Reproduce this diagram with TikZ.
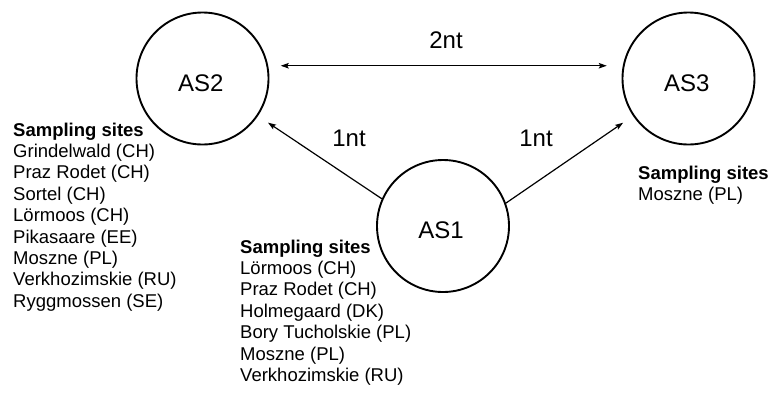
\documentclass[tikz,border=0pt]{standalone}
\usepackage{fontspec}
\setmainfont{Liberation Sans}
\usetikzlibrary{arrows.meta}
\begin{document}
\begin{tikzpicture}[x=1pt,y=-1pt,
  circ/.style={circle,draw,line width=1.9pt,minimum size=132pt,inner sep=0pt},
  big/.style={font=\fontsize{24}{28}\selectfont},
  lab/.style={big,inner sep=0pt},
  tip/.tip={Stealth[length=8pt,width=5.5pt,inset=1.5pt]},
  arr/.style={line width=1.2pt,-tip},
  sites/.style={anchor=base west,inner sep=0pt,font=\fontsize{18.5}{21.4}\selectfont}]
  \useasboundingbox (0,0) rectangle (777,392);

  % states
  \node[circ,label={[lab,xshift=-1.7pt,yshift=-4.5pt]center:AS2}] (AS2) at (202.5,78.5) {};
  \node[circ,label={[lab,xshift=-1.7pt,yshift=-4.5pt]center:AS3}] (AS3) at (688.5,78.5) {};
  \node[circ,label={[lab,xshift=-2pt,yshift=-4.5pt]center:AS1}] (AS1) at (443,226) {};

  % transitions
  \draw[arr,tip-tip,shorten <=12.5pt,shorten >=16pt] (AS2.11) -- (AS3.169);
  \draw[arr,shorten >=12pt] (AS1.156) -- (AS2.-34.5);
  \draw[arr,shorten >=12pt] (AS1.20) -- (AS3.214.5);

  \node[lab,anchor=base] (d2) at (446,48) {2nt};
  \node[lab,anchor=base] (d1a) at (349,146.5) {1nt};
  \node[lab,anchor=base] (d1b) at (536,146.5) {1nt};

  % sampling sites
  \node[sites] (s2) at (13,136) {\begin{tabular}[t]{@{}l@{}}\textbf{Sampling sites}\\
    Grindelwald (CH)\\ Praz Rodet (CH)\\ Sortel (CH)\\ Lörmoos (CH)\\
    Pikasaare (EE)\\ Moszne (PL)\\ Verkhozimskie (RU)\\ Ryggmossen (SE)\end{tabular}};
  \node[sites] (s1) at (240,253) {\begin{tabular}[t]{@{}l@{}}\textbf{Sampling sites}\\
    Lörmoos (CH)\\ Praz Rodet (CH)\\ Holmegaard (DK)\\ Bory Tucholskie (PL)\\
    Moszne (PL)\\ Verkhozimskie (RU)\end{tabular}};
  \node[sites] (s3) at (638,179.5) {\begin{tabular}[t]{@{}l@{}}\textbf{Sampling sites}\\
    Moszne (PL)\end{tabular}};
\end{tikzpicture}
\end{document}
